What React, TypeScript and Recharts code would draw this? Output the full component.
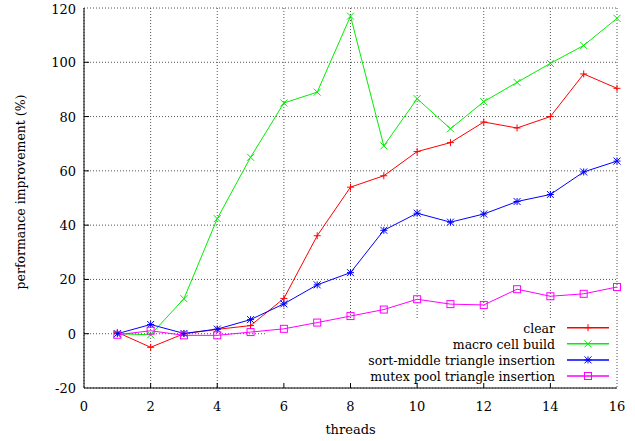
import React from 'react';
import { LineChart, Line, XAxis, YAxis, CartesianGrid, ReferenceArea } from 'recharts';

const threads = [1, 2, 3, 4, 5, 6, 7, 8, 9, 10, 11, 12, 13, 14, 15, 16];
const clear = [0.5, -5, 0, 1.6, 3, 13, 36.1, 54, 58.2, 67.1, 70.4, 78, 75.8, 80, 95.7, 90.4];
const macroCellBuild = [0, -0.4, 12.9, 42.4, 65, 85, 89, 117, 69.2, 86.6, 75.5, 85.5, 92.6, 99.6, 106.2, 116.2];
const sortMiddle = [0, 3.4, 0.1, 1.7, 5.2, 11, 18, 22.5, 38.1, 44.4, 41.1, 44.1, 48.7, 51.3, 59.6, 63.6];
const mutexPool = [-0.4, 1.1, -0.6, -0.6, 0.6, 1.8, 4.1, 6.5, 8.9, 12.7, 10.9, 10.6, 16.4, 13.8, 14.7, 17.2];

const xTicks = [0, 2, 4, 6, 8, 10, 12, 14, 16];
const yTicks = [-20, 0, 20, 40, 60, 80, 100, 120];

const series = [
  { key: 'clear', name: 'clear', color: '#ff0000', marker: 'plus' },
  { key: 'macro', name: 'macro cell build', color: '#00ee00', marker: 'cross' },
  { key: 'sort', name: 'sort-middle triangle insertion', color: '#0000ff', marker: 'star' },
  { key: 'mutex', name: 'mutex pool triangle insertion', color: '#ff00ff', marker: 'square' },
];

const data = threads.map((t, i) => ({
  threads: t,
  clear: clear[i],
  macro: macroCellBuild[i],
  sort: sortMiddle[i],
  mutex: mutexPool[i],
}));

const FONT = "'DejaVu Serif', serif";

function Marker({ cx, cy, color, kind }: { cx: number; cy: number; color: string; kind: string }) {
  const s = 3.5;
  if (kind === 'plus') {
    return (
      <g stroke={color} strokeWidth={1}>
        <line x1={cx - s} x2={cx + s} y1={cy} y2={cy} />
        <line x1={cx} x2={cx} y1={cy - s} y2={cy + s} />
      </g>
    );
  }
  if (kind === 'cross') {
    return (
      <g stroke={color} strokeWidth={1}>
        <line x1={cx - s} x2={cx + s} y1={cy - s} y2={cy + s} />
        <line x1={cx - s} x2={cx + s} y1={cy + s} y2={cy - s} />
      </g>
    );
  }
  if (kind === 'star') {
    return (
      <g stroke={color} strokeWidth={1}>
        <line x1={cx - s} x2={cx + s} y1={cy} y2={cy} />
        <line x1={cx} x2={cx} y1={cy - s} y2={cy + s} />
        <line x1={cx - s} x2={cx + s} y1={cy - s} y2={cy + s} />
        <line x1={cx - s} x2={cx + s} y1={cy + s} y2={cy - s} />
      </g>
    );
  }
  return <rect x={cx - s} y={cy - s} width={2 * s} height={2 * s} fill="none" stroke={color} strokeWidth={1} />;
}

function T(props: any) {
  const { children, size = 13, ...rest } = props;
  return (
    <text {...rest} fontFamily={FONT} fontSize={size} fill="#000" style={{ fontFamily: FONT }}>
      {children}
    </text>
  );
}

function BottomTick({ x, y, payload }: any) {
  const v = payload.value;
  return (
    <g>
      {v !== 0 && v !== 16 && <line x1={x} x2={x} y1={y} y2={y - 5} stroke="#000" />}
      <T x={x} y={y + 23} textAnchor="middle">{v}</T>
    </g>
  );
}

function TopTick({ x, y, payload }: any) {
  const v = payload.value;
  if (v === 0 || v === 16) return null;
  return <line x1={x} x2={x} y1={y} y2={y + 5} stroke="#000" />;
}

function LeftTick({ x, y, payload }: any) {
  const v = payload.value;
  return (
    <g>
      {v !== -20 && v !== 120 && <line x1={x} x2={x + 5} y1={y} y2={y} stroke="#000" />}
      <T x={x - 8} y={y + 5} textAnchor="end">{v}</T>
    </g>
  );
}

function RightTick({ x, y, payload }: any) {
  const v = payload.value;
  if (v === -20 || v === 120) return null;
  return <line x1={x} x2={x - 5} y1={y} y2={y} stroke="#000" />;
}

export default function App() {
  return (
    <div style={{ position: 'absolute', left: 0, top: 0, width: 635, height: 441, background: '#fff', fontFamily: FONT }}>
      <LineChart width={635} height={441} data={data} margin={{ top: 8, right: 18, left: 0, bottom: 0 }}>
        <CartesianGrid stroke="#555" strokeDasharray="1 2" />
        {/* key box clears the grid behind it, like gnuplot */}
        <ReferenceArea x1={5.45} x2={15.97} y1={-19.8} y2={5.8} fill="#fff" fillOpacity={1} stroke="none" />
        <XAxis
          dataKey="threads"
          type="number"
          domain={[0, 16]}
          ticks={xTicks}
          height={53}
          tickSize={0}
          tickMargin={0}
          tickLine={false}
          axisLine={{ stroke: '#000' }}
          tick={<BottomTick />}
          label={(props: any) => {
            const vb = props.viewBox;
            return <T x={vb.x + vb.width / 2} y={434} textAnchor="middle">threads</T>;
          }}
        />
        <XAxis
          xAxisId="top"
          orientation="top"
          type="number"
          domain={[0, 16]}
          ticks={xTicks}
          height={0}
          tickSize={0}
          tickMargin={0}
          tickLine={false}
          axisLine={{ stroke: '#000' }}
          tick={<TopTick />}
        />
        <YAxis
          type="number"
          domain={[-20, 120]}
          ticks={yTicks}
          width={84}
          tickSize={0}
          tickMargin={0}
          tickLine={false}
          axisLine={{ stroke: '#000' }}
          tick={<LeftTick />}
          label={(props: any) => {
            const vb = props.viewBox;
            const cy = vb.y + vb.height / 2 - 6;
            return (
              <T x={25} y={cy} size={12.5} textAnchor="middle" transform={`rotate(-90 25 ${cy})`}>
                performance improvement (%)
              </T>
            );
          }}
        />
        <YAxis
          yAxisId="right"
          orientation="right"
          type="number"
          domain={[-20, 120]}
          ticks={yTicks}
          width={0}
          tickSize={0}
          tickMargin={0}
          tickLine={false}
          axisLine={{ stroke: '#000' }}
          tick={<RightTick />}
        />
        {series.map((s) => (
          <Line
            key={s.key}
            dataKey={s.key}
            name={s.name}
            stroke={s.color}
            strokeWidth={1}
            type="linear"
            isAnimationActive={false}
            dot={(p: any) => <Marker key={`${s.key}-${p.index}`} cx={p.cx} cy={p.cy} color={s.color} kind={s.marker} />}
          />
        ))}
      </LineChart>
      <svg width={351} height={69} style={{ position: 'absolute', left: 265, top: 318 }}>
        {series.map((s, i) => {
          const cy = 9.7 + i * 16.1;
          return (
            <g key={s.key}>
              <T x={290} y={cy + 5} size={12.5} textAnchor="end">{s.name}</T>
              <line x1={302} x2={344} y1={cy} y2={cy} stroke={s.color} strokeWidth={1.5} />
              <Marker cx={323} cy={cy} color={s.color} kind={s.marker} />
            </g>
          );
        })}
      </svg>
    </div>
  );
}
